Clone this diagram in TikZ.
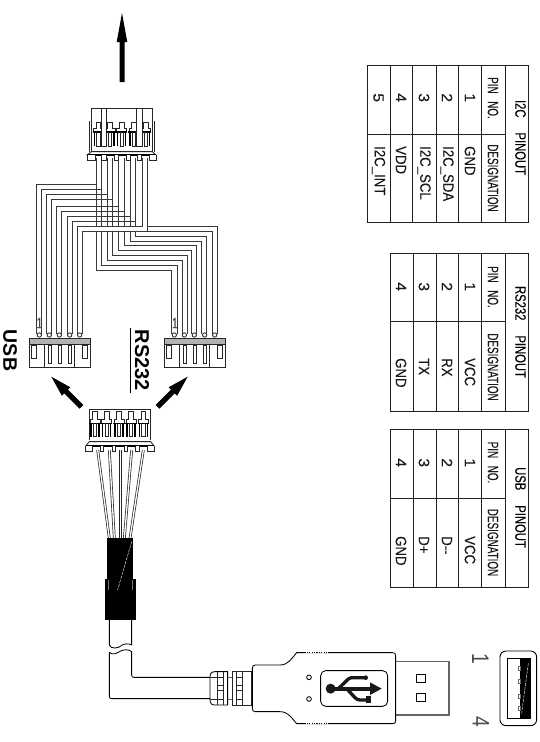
\documentclass[tikz,border=0pt]{standalone}
\usepackage{fontspec}
\setmainfont{Liberation Sans}
\newfontfamily\cadf[FakeStretch=0.66,FakeBold=0.25]{Liberation Sans}
\newfontfamily\valf[FakeStretch=0.88,FakeBold=0.25]{Liberation Sans}
\newfontfamily\titf[FakeStretch=0.75,FakeBold=0.3]{Liberation Sans}
\newfontfamily\digf[FakeStretch=1.05,FakeBold=0.2]{Liberation Sans}
\newfontfamily\bigf[FakeStretch=0.8]{Liberation Sans}
\tikzset{
  cropone/.style={shift={(0,100)},x=.33333pt,y=-.33333pt},
  croptwo/.style={shift={(0,290)},x=.33333pt,y=-.33333pt},
  cropthree/.style={shift={(50,440)},x=.33333pt,y=-.33333pt},
  cropfour/.style={shift={(90,590)},x=.33333pt,y=-.33333pt},
  cropeight/.style={shift={(440,640)},x=.33333pt,y=-.33333pt},
  cropnine/.style={shift={(200,630)},x=.33333pt,y=-.33333pt},
  ln/.style={draw=black!85,line width=.85pt},
  wl/.style={draw=black!78,line width=.9pt},
  bold/.style={draw=black,line width=1.6pt},
  tb/.style={draw=black!88,line width=.95pt},
  tx/.style={rotate=-90,inner sep=0pt,font=\cadf\fontsize{15}{15}\selectfont,text=black!90},
  vl/.style={rotate=-90,inner sep=0pt,font=\valf\fontsize{15}{15}\selectfont,text=black!90,anchor=west},
  tt/.style={rotate=-90,inner sep=0pt,font=\titf\fontsize{15}{15}\selectfont,text=black},
  dg/.style={rotate=-90,inner sep=0pt,font=\digf\fontsize{15}{15}\selectfont,text=black!90},
  fanwire/.style={double=white,double distance=1.3pt,draw=black!85,line width=.7pt},
}
\newcommand{\teethA}[5]{% c, toptooth, shoulder, boldy, stembottom
  \draw[ln] (#1-15,#4)--(#1-15,#3)--(#1-7,#3)--(#1-7,#2)--(#1+7,#2)--(#1+7,#3)--(#1+15,#3)--(#1+15,#4);
  \draw[bold] (#1-17,#4)--(#1+17,#4);
  \draw[draw=black,line width=1.2pt] (#1-12,#4)--(#1-12,#5) (#1+12,#4)--(#1+12,#5);
  \draw[ln] (#1-5,#4)--(#1-5,#5)--(#1+5,#5)--(#1+5,#4);
}
\newcommand{\bigarrow}[7]{% x,y,angle,L,hl,hw,sw
  \begin{scope}[shift={(#1,#2)},rotate=#3]
    \fill[black] (0,0)--(-#5,#6)--(-#5,#7)--(-#4,#7)--(-#4,-#7)--(-#5,-#7)--(-#5,-#6)--cycle;
  \end{scope}
}
\begin{document}
\begin{tikzpicture}[x=1pt,y=-1pt]
\useasboundingbox (0,0) rectangle (540,742);
\fill[white] (0,0) rectangle (540,742);

% top arrow and diagonals
\bigarrow{122}{13}{90}{69}{29}{5.3}{2.5}
\bigarrow{51.3}{376.7}{135}{42.7}{21}{6}{2.6}
\bigarrow{187.7}{376.7}{45}{42.7}{21}{6}{2.6}

% wiring harness
\begin{scope}[cropone]
  % verticals
  \foreach \v in {288,304,322,338,355,372,390,407,427,442}
    \draw[wl] (\v,175)--(\v,380);
  % left branch
  \draw[wl] (288,253)--(110,253)--(110,702);
  \draw[wl] (304,268)--(125,268)--(125,702);
  \draw[wl] (322,283)--(140,283)--(140,702);
  \draw[wl] (338,298)--(155,298)--(155,702);
  \draw[wl] (355,318)--(170,318)--(170,702);
  \draw[wl] (372,333)--(185,333)--(185,702);
  \draw[wl] (390,350)--(202,350)--(202,702);
  \draw[wl] (407,365)--(217,365)--(217,702);
  \draw[wl] (427,380)--(232,380)--(232,702);
  \draw[wl] (442,395)--(247,395)--(247,702);
  \draw[wl] (442,380)--(442,395);
  % right branch
  \draw[wl] (442,380)--(652,380)--(652,702);
  \draw[wl] (427,395)--(636,395)--(636,702);
  \draw[wl] (407,395)--(407,408)--(620,408)--(620,702);
  \draw[wl] (390,395)--(390,423)--(605,423)--(605,702);
  \draw[wl] (372,395)--(372,437)--(590,437)--(590,702);
  \draw[wl] (355,395)--(355,452)--(575,452)--(575,702);
  \draw[wl] (338,395)--(338,466)--(561,466)--(561,702);
  \draw[wl] (322,395)--(322,480)--(547,480)--(547,702);
  \draw[wl] (304,395)--(304,495)--(531,495)--(531,702);
  \draw[wl] (288,395)--(288,510)--(515,510)--(515,702);

  % top connector
  \draw[ln] (268,64)--(268,155) (463,64)--(463,155);
  \draw[ln] (274,155)--(274,26)--(457,26)--(457,155);
  \foreach \c in {295,330,365,402,437}
    \teethA{\c}{66}{85}{96}{138};
  \draw[ln,fill=white] (305,26) rectangle (320,138);
  \draw[ln,fill=white] (410,26) rectangle (428,138);
  \filldraw[fill=white,ln] (274,155)--(457,155)--(468,165)--(262,165)--cycle;
  \draw[bold,line width=1.2pt] (262,165)--(468,165);
  \draw[ln,fill=white] (262,165)--(262,180)--(285,180)--(285,165);
  \draw[ln,fill=white] (447,165)--(447,180)--(468,180)--(468,165);
  \foreach \a/\b in {305/318,342/355,378/390,412/425}
    \draw[ln,fill=white] (\a,165)--(\a,180)--(\b,180)--(\b,165);
\end{scope}

% terminal connectors, USB and RS232 sides
\begin{scope}[croptwo]
  \foreach \s in {0,405}{
    \begin{scope}[xshift=\s*.33333pt]
      \foreach \c in {118,148,178,209,239}
        \draw[ln,fill=white] (\c,135) circle (6.5);
      \fill[black!30] (88,146) rectangle (270,162);
      \draw[ln] (88,146) rectangle (270,231);
      \draw[ln] (88,162)--(270,162);
      \draw[ln] (134,162)--(134,231) (224,162)--(224,231);
      \draw[ln] (95,165) rectangle (110,205);
      \draw[ln] (247,165) rectangle (262,205);
      \foreach \c in {149,179,209}
        \draw[ln] (\c-4,165) rectangle (\c+4,221);
    \end{scope}
  }
  % centre connector
  \draw[ln] (268,450)--(268,358)--(450,358)--(450,450);
  \foreach \c in {285,320,357,393,430}
    \teethA{\c}{365}{388}{400}{440};
\end{scope}

% centre connector flange and fan of wires
\begin{scope}[cropthree]
  \foreach \a/\b in {143/178,178/193,211/211,245/223,280/240}
    \draw[fanwire] (\a,30)--(\b,295);
  \filldraw[fill=white,ln] (118,5)--(302,5)--(312,18)--(107,18)--cycle;
  \draw[bold,line width=1.2pt] (107,18)--(312,18);
  \draw[ln,fill=white] (107,18)--(107,35)--(127,35)--(127,18);
  \draw[ln,fill=white] (292,18)--(292,35)--(312,35)--(312,18);
  \foreach \a/\b in {152/160,187/197,222/232,257/267}
    \draw[ln,fill=white] (\a,18)--(\a,35)--(\b,35)--(\b,18);
  % strain relief
  \fill[black] (172,295) rectangle (250,418);
  \fill[black] (165,418) rectangle (258,540);
  \draw[black!55,line width=.5pt] (176,420)--(176,535) (248,420)--(248,535);
  \draw[white,dash pattern=on 3pt off 1pt,line width=.4pt] (245,305)--(178,535);
\end{scope}

% cable
\begin{scope}[cropfour]
  \fill[black] (45,0) rectangle (137,90);
  \draw[ln,draw=black] (58,90)--(58,165) .. controls (62,178) and (85,175) .. (92,168) .. controls (100,160) and (118,160) .. (125,165)--(125,90);
  \draw[ln,draw=black] (58,187) .. controls (68,196) and (80,190) .. (90,184) .. controls (100,178) and (118,177) .. (125,185)
     --(125,255) .. controls (125,260) and (127,262) .. (132,262)--(360,262);
  \draw[ln,draw=black] (58,187)--(58,318) .. controls (58,324) and (60,326) .. (66,326)--(360,326);
\end{scope}

% USB plug
\begin{scope}[cropnine]
  % metal shell
  \draw[draw=black!60,line width=1.6pt] (587,95)--(747,95)--(747,255)--(587,255);
  \draw[ln,draw=black] (648,133) rectangle (677,158);
  \draw[ln,draw=black] (648,190) rectangle (677,215);
  % strain collar
  \draw[ln,draw=black] (83,125)--(45,125) .. controls (35,125) and (30,130) .. (30,140)--(30,210) .. controls (30,220) and (35,225) .. (45,225)--(83,225)--cycle;
  \draw[ln] (97,125) rectangle (155,225);
  \draw[ln] (53,125)--(53,225) (70,125)--(70,225);
  \draw[ln] (110,125)--(110,225) (128,125)--(128,225);
  \draw[ln] (53,143)--(70,143) (53,167)--(70,167) (53,182)--(70,182) (53,207)--(70,207);
  \draw[ln] (110,143)--(128,143) (110,167)--(128,167) (110,182)--(128,182) (110,207)--(128,207);
  \draw[ln] (30,142)--(53,142) (30,208)--(53,208);
  \draw[draw=black!65,line width=1.1pt] (83,142)--(97,142) (83,208)--(97,208);
  % body
  \draw[ln,draw=black,fill=white] (157,115) .. controls (157,108) and (160,105) .. (166,105)--(240,105)
     .. controls (265,105) and (275,85) .. (290,68)--(578,68) .. controls (584,68) and (587,71) .. (587,77)
     --(587,272) .. controls (587,278) and (584,281) .. (578,281)--(290,281)
     .. controls (275,264) and (265,245) .. (240,245)--(166,245) .. controls (160,245) and (157,242) .. (157,235)--cycle;
  \draw[white,line width=.5pt,dash pattern=on 1.2pt off 1.2pt] (317,68)--(385,68) (317,281)--(385,281);
  \draw[ln,draw=black] (327,142) circle (7);
  \draw[ln,draw=black] (327,207) circle (7);
  \draw[ln,draw=black,rounded corners=5pt] (362,122) rectangle (563,229);
  % USB logo
  \fill[black!90] (392,176) circle (15);
  \fill[black!90] (510,157)--(545,176)--(510,195)--cycle;
  \draw[black!90,line width=3.8pt] (392,176)--(515,176);
  \draw[black!90,line width=3.3pt] (415,176)--(445,147) .. controls (450,143) and (455,143) .. (460,143)--(495,143);
  \fill[black!90] (497,143) circle (7);
  \draw[black!90,line width=3.3pt] (440,176)--(465,203) .. controls (470,208) and (475,210) .. (480,210)--(505,210);
  \fill[black!90] (497,197) rectangle (513,220);
\end{scope}

% USB receptacle
\begin{scope}[cropeight]
  \draw[draw=black,line width=.9pt,rounded corners=6pt] (180,33) rectangle (290,257);
  \fill[black] (240,55) rectangle (272,235);
  \draw[draw=black,line width=.9pt] (203,55) rectangle (272,235);
  \draw[white,dash pattern=on 3pt off 1pt,line width=.4pt] (265,70)--(245,220);
  \foreach \q in {85,125,170,205}
    \draw[draw=black!60,line width=.7pt,fill=white] (236,\q-6) rectangle (241,\q+6);
\end{scope}
\node[rotate=-90,inner sep=0pt,font=\bigf\fontsize{24}{24}\selectfont,text=black!70] (pinOne) at (480.5,659) {1};
\node[rotate=-90,inner sep=0pt,font=\bigf\fontsize{24}{24}\selectfont,text=black!70] (pinFour) at (481,721.5) {4};

% labels
\node[rotate=-90,inner sep=0pt,font=\bfseries\fontsize{19.5}{20}\selectfont] (usbLabel) at (10,350.5) {USB};
\node[rotate=-90,inner sep=0pt,font=\bfseries\fontsize{20}{20}\selectfont] (rsLabel) at (142,360.5) {RS232};
\draw[draw=black,line width=1pt] (130.3,328)--(130.3,393);
\node[inner sep=0pt,font=\cadf\fontsize{15}{15}\selectfont,text=black!70] (oneL) at (39.5,323) {1};
\node[inner sep=0pt,font=\cadf\fontsize{15}{15}\selectfont,text=black!70] (oneR) at (175,323) {1};

% I2C table
\draw[tb] (367.3,65) rectangle (528,222);
\foreach \x in {390,412.7,436,458.7,481.7,505} \draw[tb] (\x,65)--(\x,222);
\draw[tb] (367.3,134)--(505,134);
\node[tt] (tOne) at (520.5,137.5) {I2C\quad PINOUT};
\node[tx] (tOneA) at (493,98) {PIN\enspace NO.};
\node[tx] (tOneB) at (493,178) {DESIGNATION};
\node[dg] (a1) at (470,97.7) {1};
\node[dg] (a2) at (447,97.7) {2};
\node[dg] (a3) at (424,97.7) {3};
\node[dg] (a4) at (401,97.7) {4};
\node[dg] (a5) at (378.5,97.7) {5};
\node[vl] (b1) at (470,146) {GND};
\node[vl] (b2) at (447,146) {I2C\_SDA};
\node[vl] (b3) at (424,146) {I2C\_SCL};
\node[vl] (b4) at (401,146) {VDD};
\node[vl] (b5) at (378.5,146) {I2C\_INT};

% RS232 table
\draw[tb] (390,253) rectangle (528,411);
\foreach \x in {413.3,436,458.7,481.7,505} \draw[tb] (\x,253)--(\x,411);
\draw[tb] (390,321.7)--(505,321.7);
\node[tt] (tTwo) at (520.5,332) {RS232\quad PINOUT};
\node[tx] (tTwoA) at (493,287) {PIN\enspace NO.};
\node[tx] (tTwoB) at (493,367) {DESIGNATION};
\node[dg] (c1) at (470,286.7) {1};
\node[dg] (c2) at (447,286.7) {2};
\node[dg] (c3) at (424,286.7) {3};
\node[dg] (c4) at (401,286.7) {4};
\node[vl] (d1) at (470,358) {VCC};
\node[vl] (d2) at (447,358) {RX};
\node[vl] (d3) at (424,358) {TX};
\node[vl] (d4) at (401,358) {GND};

% USB table
\draw[tb] (390,429.3) rectangle (528,587.3);
\foreach \x in {413.3,436,458.7,481.7,505} \draw[tb] (\x,429.3)--(\x,587.3);
\draw[tb] (390,498.3)--(505,498.3);
\node[tt] (tThree) at (520.5,507.5) {USB\quad PINOUT};
\node[tx] (tThreeA) at (493,462.5) {PIN\enspace NO.};
\node[tx] (tThreeB) at (493,542.5) {DESIGNATION};
\node[dg] (e1) at (470,462.7) {1};
\node[dg] (e2) at (447,462.7) {2};
\node[dg] (e3) at (424,462.7) {3};
\node[dg] (e4) at (401,462.7) {4};
\node[vl] (f1) at (470,536) {VCC};
\node[vl] (f2) at (447,536) {D--};
\node[vl] (f3) at (424,536) {D+};
\node[vl] (f4) at (401,536) {GND};
\end{tikzpicture}
\end{document}
